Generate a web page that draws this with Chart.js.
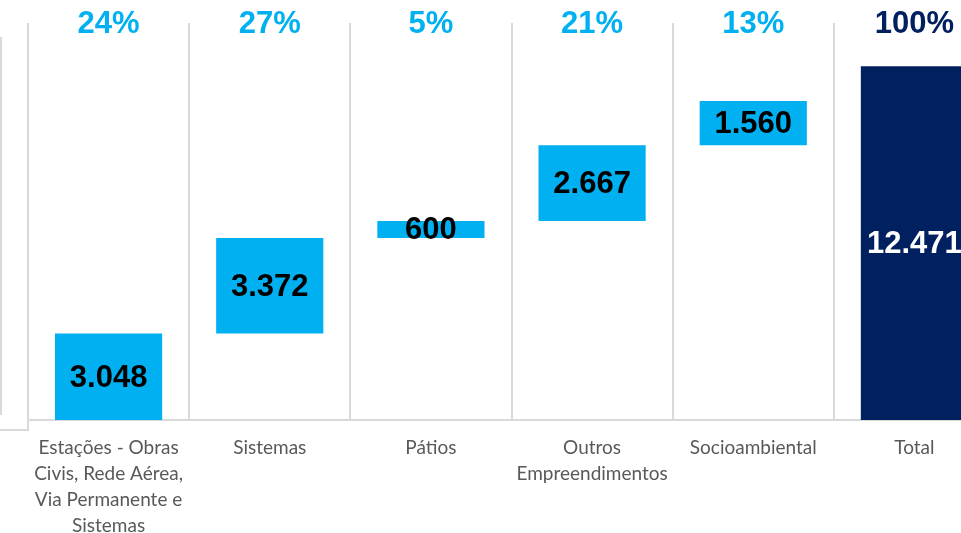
<!DOCTYPE html>
<html lang="pt-BR">
<head>
<meta charset="utf-8">
<script src="https://cdn.jsdelivr.net/npm/chart.js@4.4.0/dist/chart.umd.min.js"></script>
<style>
    body { margin: 0; background: #fff; overflow: hidden; }
    #caixaGrafico { position: absolute; left: 0; top: 0; width: 1000px; height: 533px; }
    .linha { position: absolute; background: #d9d9d9; }
</style>
</head>
<body>
<!-- pedaço do quadro anterior que aparece cortado na esquerda -->
<div class="linha" style="left:0;top:37px;width:2px;height:378px"></div>
<div class="linha" style="left:0;top:429px;width:29px;height:2px"></div>
<div class="linha" style="left:27px;top:420px;width:2px;height:11px"></div>

<div id="caixaGrafico"><canvas id="chartCascata"></canvas></div>

<script>
const categorias = [
    ['Estações - Obras', 'Civis, Rede Aérea,', 'Via Permanente e', 'Sistemas'],
    'Sistemas',
    'Pátios',
    ['Outros', 'Empreendimentos'],
    'Socioambiental',
    'Total'
]
const valores = [3048, 3372, 600, 2667, 1560]
const valorTotal = 12471
const percentuais = ['24%', '27%', '5%', '21%', '13%', '100%']

const azulClaro = '#00B0F0'
const azulEscuro = '#002060'

function formatarNumero(n) {
    return String(n).replace(/\B(?=(\d{3})+(?!\d))/g, '.')
}

// monta as barras flutuantes da cascata
var barras = []
var acumulado = 0
for (let i = 0; i < valores.length; i++) {
    barras.push([acumulado, acumulado + valores[i]])
    acumulado += valores[i]
}
barras.push([0, valorTotal])

var rotulosValor = valores.concat([valorTotal]).map(formatarNumero)
var cores = valores.map(() => azulClaro).concat([azulEscuro])

const pluginRotulos = {
    id: 'rotulos',
    afterDatasetsDraw(chart) {
        const c = chart.ctx
        const meta = chart.getDatasetMeta(0)
        c.save()
        c.textAlign = 'center'
        c.textBaseline = 'middle'
        c.font = 'bold 31px "Liberation Sans", Arial, sans-serif'
        meta.data.forEach(function (barra, i) {
            // percentual no topo
            c.fillStyle = i == meta.data.length - 1 ? azulEscuro : azulClaro
            c.fillText(percentuais[i], barra.x, 24)

            // valor dentro da barra
            c.fillStyle = i == meta.data.length - 1 ? '#ffffff' : '#000000'
            c.fillText(rotulosValor[i], barra.x, (barra.y + barra.base) / 2 + 1.5)
        })
        c.restore()
    }
}

const ctx = document.getElementById('chartCascata')

var graficoCascata = new Chart(ctx, {
    type: 'bar',
    data: {
        labels: categorias,
        datasets: [{
            data: barras,
            backgroundColor: cores,
            borderWidth: 0,
            categoryPercentage: 1,
            barPercentage: 0.665
        }]
    },
    options: {
        responsive: true,
        maintainAspectRatio: false,
        animation: false,
        layout: {
            padding: { top: 23, left: 28, right: 5, bottom: 0 }
        },
        scales: {
            x: {
                grid: {
                    offset: true,
                    color: '#d9d9d9',
                    lineWidth: 2,
                    drawTicks: false
                },
                border: { color: '#d9d9d9', width: 2 },
                ticks: {
                    color: '#595959',
                    padding: 15,
                    maxRotation: 0,
                    autoSkip: false,
                    font: { family: 'Lato, "Open Sans", sans-serif', size: 19, lineHeight: 1.37 }
                },
                afterFit: function (scale) {
                    scale.height = 113
                }
            },
            y: {
                display: false,
                min: 0,
                max: 14000
            }
        },
        plugins: {
            legend: { display: false },
            tooltip: { enabled: false }
        }
    },
    plugins: [pluginRotulos]
})
</script>
</body>
</html>
